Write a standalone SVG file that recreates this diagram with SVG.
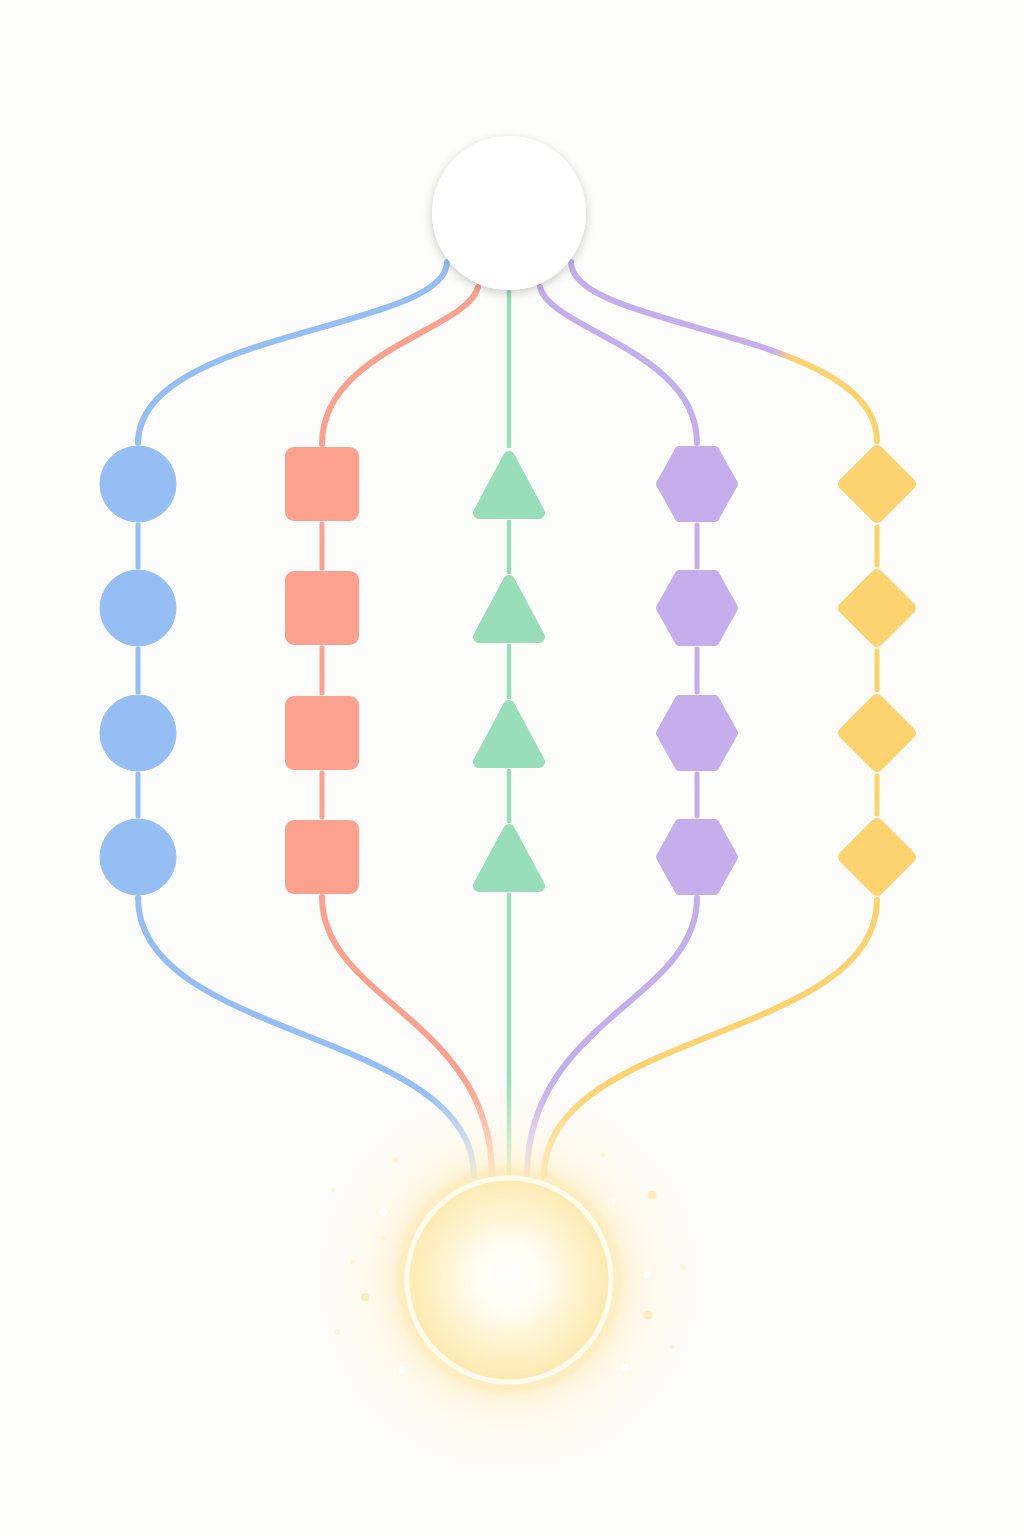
<svg xmlns="http://www.w3.org/2000/svg" xmlns:xlink="http://www.w3.org/1999/xlink" width="1024" height="1536" viewBox="0 0 1024 1536">
<defs>
<style>
.ln{fill:none;stroke-linecap:round}
.c{stroke-width:6}
.s{stroke-width:5}
.blue{fill:#95BFF4;stroke:#95BFF4}
.red{fill:#FCA18D;stroke:#FCA18D}
.green{fill:#98DEB8;stroke:#98DEB8}
.purple{fill:#C4AFEC;stroke:#C4AFEC}
.yellow{fill:#FDD36F;stroke:#FDD36F}
.shp{stroke-width:8;stroke-linejoin:round}
.shp2{stroke-width:12;stroke-linejoin:round}
.sq{stroke:none}
.dot{fill:#FFF4D2}
.dotw{fill:#FFFFFF}
</style>
<filter id="shadow" x="-30%" y="-30%" width="160%" height="160%">
<feDropShadow dx="0" dy="3" stdDeviation="5" flood-color="#000" flood-opacity="0.2"/>
</filter>
<filter id="soft" x="-50%" y="-50%" width="200%" height="200%">
<feGaussianBlur stdDeviation="4"/>
</filter>
<linearGradient id="gPY" gradientUnits="userSpaceOnUse" x1="571" y1="0" x2="877" y2="0">
<stop offset="0" stop-color="#C4AFEC"/>
<stop offset="0.66" stop-color="#C4AFEC"/>
<stop offset="0.72" stop-color="#FDD36F"/>
<stop offset="1" stop-color="#FDD36F"/>
</linearGradient>
<linearGradient id="fB" gradientUnits="userSpaceOnUse" x1="0" y1="1095" x2="0" y2="1178"><stop offset="0" stop-color="#95BFF4"/><stop offset="1" stop-color="#D6E6FA"/></linearGradient>
<linearGradient id="fR" gradientUnits="userSpaceOnUse" x1="0" y1="1095" x2="0" y2="1178"><stop offset="0" stop-color="#FCA18D"/><stop offset="1" stop-color="#FDD6C6"/></linearGradient>
<linearGradient id="fG" gradientUnits="userSpaceOnUse" x1="0" y1="1095" x2="0" y2="1178"><stop offset="0" stop-color="#98DEB8"/><stop offset="1" stop-color="#CFEFD5"/></linearGradient>
<linearGradient id="fP" gradientUnits="userSpaceOnUse" x1="0" y1="1095" x2="0" y2="1178"><stop offset="0" stop-color="#C4AFEC"/><stop offset="1" stop-color="#E6DCF5"/></linearGradient>
<linearGradient id="fY" gradientUnits="userSpaceOnUse" x1="0" y1="1095" x2="0" y2="1178"><stop offset="0" stop-color="#FDD36F"/><stop offset="1" stop-color="#FDE3A0"/></linearGradient>
<radialGradient id="glow" cx="509" cy="1280" r="210" gradientUnits="userSpaceOnUse">
<stop offset="0" stop-color="#FFEBB0" stop-opacity="0.8"/>
<stop offset="0.5" stop-color="#FFEDB8" stop-opacity="0.6"/>
<stop offset="0.72" stop-color="#FFF3D2" stop-opacity="0.25"/>
<stop offset="1" stop-color="#FFF8E8" stop-opacity="0"/>
</radialGradient>
<radialGradient id="core" cx="509" cy="1278" r="102" gradientUnits="userSpaceOnUse">
<stop offset="0" stop-color="#FFFFFF"/>
<stop offset="0.3" stop-color="#FFFDF5"/>
<stop offset="0.75" stop-color="#FEF0C6"/>
<stop offset="1" stop-color="#FDE9B0"/>
</radialGradient>
<circle id="circ" cx="0" cy="0" r="38"/>
<rect id="sqr" x="-37" y="-37" width="74" height="74" rx="9"/>
<polygon id="tri" points="0,-27 -30,29 30,29"/>
<polygon id="hex" points="-37,0 -18,-34 18,-34 37,0 18,34 -18,34"/>
<polygon id="dia" points="0,-33 33,0 0,33 -33,0"/>
</defs>

<rect x="0" y="0" width="1024" height="1536" fill="#FCFCFB"/>

<g id="connectors">
<path class="ln c" stroke="#95BFF4" d="M447,262 C447,330 138,330 138,443"/>
<path class="ln c" stroke="#FCA18D" d="M478,287 C468,330 322,350 322,444"/>
<path class="ln" stroke="#98DEB8" stroke-width="4.5" d="M509,292 L509,446"/>
<path class="ln c" stroke="#C4AFEC" d="M540,287 C550,330 697,350 697,443"/>
<path class="ln c" stroke="url(#gPY)" d="M571,262 C571,330 877,330 877,441"/>
<g class="ln s">
<path stroke="#95BFF4" d="M138,525 V567 M138,649 V692 M138,774 V816"/>
<path stroke="#FCA18D" d="M322,524 V568 M322,648 V693 M322,773 V817"/>
<path stroke="#98DEB8" stroke-width="4.5" d="M509,522 V572 M509,646 V697 M509,771 V821"/>
<path stroke="#C4AFEC" d="M697,525 V567 M697,649 V692 M697,774 V816"/>
<path stroke="#FDD36F" d="M877,527 V565 M877,651 V690 M877,776 V814"/>
</g>
<path class="ln c" stroke="url(#fB)" d="M138,898 C138,1040 474,1030 474,1176"/>
<path class="ln c" stroke="url(#fR)" d="M322,897 C322,1000 492,1020 492,1176"/>
<path class="ln" stroke="url(#fG)" stroke-width="4.5" d="M509,895 L509,1176"/>
<path class="ln c" stroke="url(#fP)" d="M697,898 C697,1000 527,1020 527,1176"/>
<path class="ln c" stroke="url(#fY)" d="M877,900 C877,1040 544,1030 544,1176"/>
</g>

<g id="top-node">
<circle cx="509" cy="213" r="77" fill="#FFFFFF" filter="url(#shadow)"/>
</g>

<g id="blue-column">
<use href="#circ" x="138" y="484" class="blue" stroke="none"/>
<use href="#circ" x="138" y="608" class="blue" stroke="none"/>
<use href="#circ" x="138" y="733" class="blue" stroke="none"/>
<use href="#circ" x="138" y="857" class="blue" stroke="none"/>
</g>
<g id="red-column">
<use href="#sqr" x="322" y="484" class="red sq"/>
<use href="#sqr" x="322" y="608" class="red sq"/>
<use href="#sqr" x="322" y="733" class="red sq"/>
<use href="#sqr" x="322" y="857" class="red sq"/>
</g>
<g id="green-column">
<use href="#tri" x="509" y="484" class="green shp2"/>
<use href="#tri" x="509" y="608" class="green shp2"/>
<use href="#tri" x="509" y="733" class="green shp2"/>
<use href="#tri" x="509" y="857" class="green shp2"/>
</g>
<g id="purple-column">
<use href="#hex" x="697" y="484" class="purple shp"/>
<use href="#hex" x="697" y="608" class="purple shp"/>
<use href="#hex" x="697" y="733" class="purple shp"/>
<use href="#hex" x="697" y="857" class="purple shp"/>
</g>
<g id="yellow-column">
<use href="#dia" x="877" y="484" class="yellow shp2"/>
<use href="#dia" x="877" y="608" class="yellow shp2"/>
<use href="#dia" x="877" y="733" class="yellow shp2"/>
<use href="#dia" x="877" y="857" class="yellow shp2"/>
</g>

<g id="bottom-node">
<circle cx="509" cy="1280" r="210" fill="url(#glow)"/>
<circle cx="509" cy="1280" r="108" fill="none" stroke="#FDE4A2" stroke-width="8" opacity="0.6" filter="url(#soft)"/>
<circle cx="509" cy="1280" r="102" fill="url(#core)"/>
<circle cx="509" cy="1280" r="102" fill="none" stroke="#FFFCEE" stroke-width="5"/>
<g id="sparkles">
<circle class="dot" cx="395" cy="1160" r="3"/>
<circle class="dotw" cx="383" cy="1212" r="4"/>
<circle class="dot" cx="383" cy="1238" r="2.5"/>
<circle class="dot" cx="353" cy="1262" r="2.5"/>
<circle cx="365" cy="1297" r="4" fill="#FDEDB8"/>
<circle class="dot" cx="337" cy="1332" r="3"/>
<circle class="dotw" cx="403" cy="1370" r="4"/>
<circle class="dot" cx="333" cy="1190" r="2.5"/>
<circle class="dot" cx="603" cy="1155" r="2.5"/>
<circle cx="652" cy="1195" r="4.5" fill="#FDEDB8"/>
<circle class="dotw" cx="613" cy="1200" r="2.5"/>
<circle class="dot" cx="683" cy="1267" r="3"/>
<circle class="dotw" cx="647" cy="1275" r="3.5"/>
<circle cx="648" cy="1315" r="4.5" fill="#FDEDB8"/>
<circle class="dot" cx="672" cy="1347" r="2.5"/>
<circle class="dotw" cx="625" cy="1367" r="3.5"/>
</g>
</g>
</svg>
